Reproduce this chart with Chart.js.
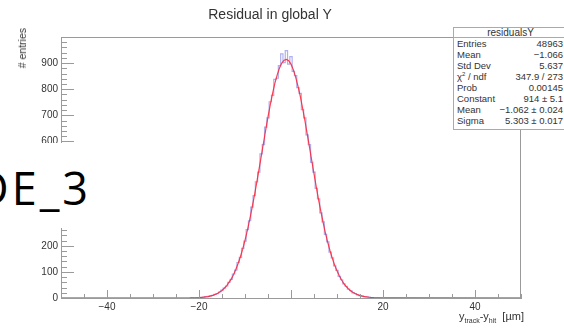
<!DOCTYPE html>
<html><head><meta charset="utf-8">
<script src="https://cdn.jsdelivr.net/npm/chart.js@4/dist/chart.umd.min.js"></script>
<style>
html,body{margin:0;padding:0;background:#fff;}
#wrap{position:relative;width:564px;height:328px;overflow:hidden;font-family:"Liberation Sans",Arial,sans-serif;}
#c{position:absolute;left:0;top:0;}
.abs{position:absolute;white-space:nowrap;color:#222;}
#title{left:0;width:540px;text-align:center;top:6px;font-size:14px;color:#333;}
#ytitle{left:22px;top:28px;font-size:10.5px;line-height:12px;transform-origin:0 0;transform:rotate(-90deg) translate(-100%,-50%);color:#333;}
#xtitle{left:459px;top:310px;font-size:11px;line-height:12px;color:#333;}
#xtitle sub{font-size:7px;vertical-align:-3px;line-height:0;}
#stats{left:453px;top:27px;width:113px;height:101px;border:1px solid #aaa;background:#fff;font-size:9.5px;color:#333;}
#stats .hd{height:9px;line-height:9px;text-align:center;font-size:10px;border-bottom:1px solid #aaa;}
#stats .row{position:relative;height:11px;line-height:11px;}
#stats .row span.l{position:absolute;left:3px;}
#stats .row span.r{position:absolute;right:4px;}
#stats .row:first-of-type{margin-top:1px;}
#stats sup{font-size:6px;line-height:0;vertical-align:4px;}
#cover{left:0;top:143px;width:110px;height:85px;background:#fff;}
#de{left:-24px;top:165px;font-family:"Open Sans",sans-serif;font-size:45px;line-height:45px;letter-spacing:3px;color:#000;}
</style></head>
<body>
<div id="wrap">
<canvas id="c" width="564" height="328"></canvas>
<div class="abs" id="title">Residual in global Y</div>
<div class="abs" id="ytitle"># entries</div>
<div class="abs" id="xtitle">y<sub>track</sub>-y<sub>hit</sub> &nbsp;[µm]</div>
<div class="abs" id="cover"></div>
<div class="abs" id="de">DE_3</div>
<div class="abs" id="stats"></div>
</div>
<script>
// ---- data ----
const binCenters = [-50,-22,-21.5,-21,-20.5,-20,-19.5,-19,-18.5,-18,-17.5,-17,-16.5,-16,-15.5,-15,-14.5,-14,-13.5,-13,-12.5,-12,-11.5,-11,-10.5,-10,-9.5,-9,-8.5,-8,-7.5,-7,-6.5,-6,-5.5,-5,-4.5,-4,-3.5,-3,-2.5,-2,-1.5,-1,-0.5,0,0.5,1,1.5,2,2.5,3,3.5,4,4.5,5,5.5,6,6.5,7,7.5,8,8.5,9,9.5,10,10.5,11,11.5,12,12.5,13,13.5,14,14.5,15,15.5,16,16.5,17,17.5,18,18.5,19,19.5,20,50];
const counts = [0,0,1,0,1,2,2,3,5,6,8,10,14,17,23,30,38,46,60,71,92,107,136,156,190,218,262,296,348,392,445,482,552,588,655,690,752,776,838,842,890,935,902,948,896,925,868,852,806,784,722,690,625,588,520,482,420,380,326,292,244,215,176,154,123,106,83,70,54,45,34,28,20,17,12,9,7,5,4,3,2,1,1,1,0,0,0];
const fitX = [-50,-25,-22,-20,-19,-18,-17,-16,-15,-14,-13,-12.5,-12,-11.5,-11,-10.5,-10,-9.5,-9,-8.5,-8,-7.5,-7,-6.5,-6,-5.5,-5,-4.5,-4,-3.5,-3,-2.5,-2,-1.5,-1,-0.5,0,0.5,1,1.5,2,2.5,3,3.5,4,4.5,5,5.5,6,6.5,7,7.5,8,8.5,9,9.5,10,10.5,11,11.5,12,12.5,13,14,15,16,17,18,20,22,50];
const fitY = [0,0.03,0.37,1.6,3.0,5.6,10,17.3,28.9,46.6,72.5,89,109,132,158,187,221,258,298,342,388,437,488,540,592,644,694,741,784,823,855,881,900,911,914,909,896,875,847,813,774,729,682,631,580,527,476,425,376,331,288,248,212,180,151,126,104,85,69,55,44,35,27,16,9.3,5.2,2.8,1.4,0.34,0.1,0];
const xTickLabels = [-40,-20,20,40];
const yTickLabels = [0,100,200,300,400,500,600,700,800,900];
const statsRows = [["Entries","48963"],["Mean","\u22121.066"],["Std Dev","5.637"],["\u03c7<sup>2</sup> / ndf","347.9 / 273"],["Prob","0.00145"],["Constant","914 \u00b1 5.1"],["Mean","\u22121.062 \u00b1 0.024"],["Sigma","5.303 \u00b1 0.017"]];

// stats box text
const st = document.getElementById('stats');
let h = '<div class="hd">residualsY</div>';
statsRows.forEach(r => { h += '<div class="row"><span class="l">'+r[0]+'</span><span class="r">'+r[1]+'</span></div>'; });
st.innerHTML = h;

const axisColor = '#9a9a9a';
const insideTicks = {
  id: 'insideTicks',
  afterDatasetsDraw(chart) {
    const ctx = chart.ctx, a = chart.chartArea, xs = chart.scales.x, ys = chart.scales.y;
    ctx.save();
    ctx.strokeStyle = axisColor; ctx.lineWidth = 1;
    ctx.beginPath();
    ctx.moveTo(a.left, a.top + 0.5); ctx.lineTo(a.right, a.top + 0.5);
    ctx.moveTo(a.right - 0.5, a.top); ctx.lineTo(a.right - 0.5, a.bottom);
    for (let v = -50; v <= 50; v += 5) {
      const px = Math.round(xs.getPixelForValue(v)) + 0.5;
      const len = (v % 20 === 0) ? 8 : 4;
      ctx.moveTo(px, a.bottom); ctx.lineTo(px, a.bottom - len);
    }
    for (let v = 0; v <= 1000; v += 20) {
      const py = Math.round(ys.getPixelForValue(v)) + 0.5;
      const len = (v % 100 === 0) ? 13 : 6;
      ctx.moveTo(a.left, py); ctx.lineTo(a.left + len, py);
    }
    ctx.stroke();
    ctx.restore();
  }
};

Chart.defaults.font.family = '"Liberation Sans", Arial, sans-serif';
Chart.defaults.font.size = 10;
Chart.defaults.color = '#333';

new Chart(document.getElementById('c'), {
  type: 'line',
  data: {
    datasets: [
      { label: 'fit', data: fitX.map((x,i)=>({x, y: fitY[i]})), borderColor: 'rgba(255,30,50,0.85)', borderWidth: 1.2, pointRadius: 0, tension: 0, order: 0 },
      { label: 'hist', data: binCenters.map((x,i)=>({x, y: counts[i]})), stepped: 'middle', borderColor: 'rgba(110,110,225,0.55)', borderWidth: 1.2, pointRadius: 0, order: 1 }
    ]
  },
  options: {
    responsive: false, animation: false, devicePixelRatio: 1,
    layout: { padding: { top: 37, right: 43, left: 0, bottom: 0 } },
    plugins: { legend: { display: false }, tooltip: { enabled: false }, title: { display: false } },
    scales: {
      x: {
        type: 'linear', min: -50, max: 50,
        grid: { display: false, drawTicks: false },
        border: { display: true, color: axisColor, width: 1 },
        ticks: { stepSize: 10, autoSkip: false, maxRotation: 0, padding: 3,
          callback: v => xTickLabels.includes(v) ? (v < 0 ? '\u2212' + Math.abs(v) : String(v)) : '' },
        afterFit: s => { s.height = 30; }
      },
      y: {
        type: 'linear', min: 0, max: 1000,
        grid: { display: false, drawTicks: false },
        border: { display: true, color: axisColor, width: 1 },
        ticks: { stepSize: 100, autoSkip: false, padding: 3,
          callback: v => yTickLabels.includes(v) ? String(v) : '' },
        afterFit: s => { s.width = 61; }
      }
    }
  },
  plugins: [insideTicks]
});
</script>
</body></html>
